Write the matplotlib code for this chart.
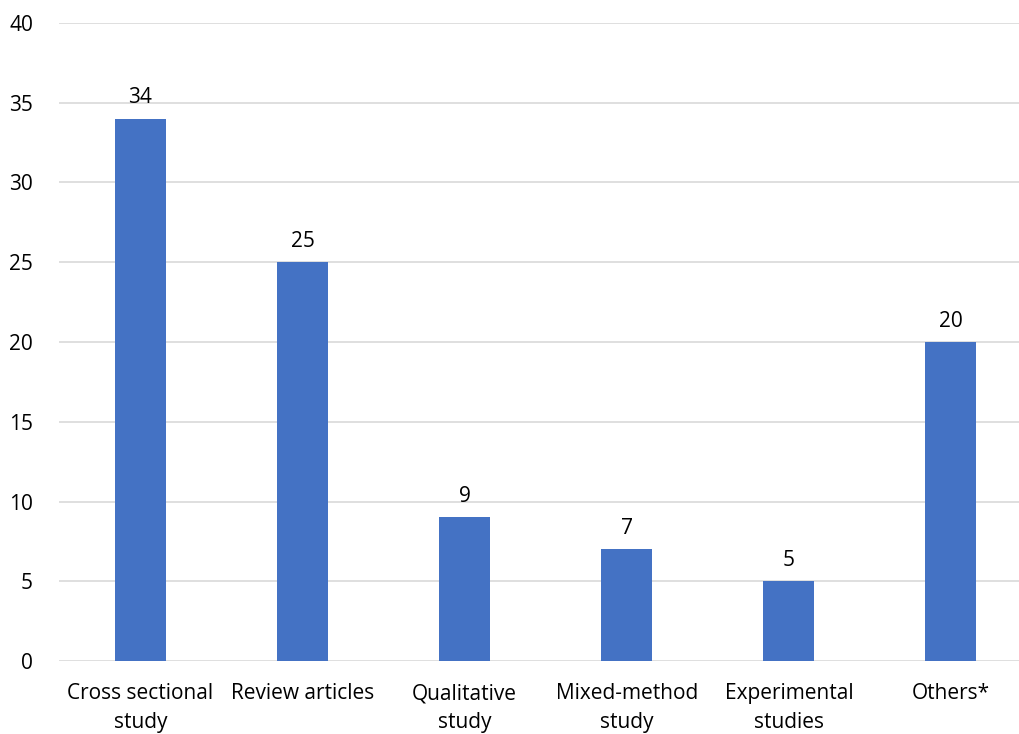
import numpy as np
import matplotlib.pyplot as plt

plt.rcParams["font.family"] = ["Open Sans", "DejaVu Sans"]

categories = ["Cross sectional\nstudy", "Review articles", "Qualitative\nstudy",
              "Mixed-method\nstudy", "Experimental\nstudies", "Others*"]
counts = [34, 25, 9, 7, 5, 20]
yticks = [0, 5, 10, 15, 20, 25, 30, 35, 40]

W, H = 1019, 734
fig = plt.figure(figsize=(W / 100, H / 100), dpi=100)
ax = fig.add_axes([59.4 / W, 73 / H, (W - 59.4) / W, (661 - 23) / H])

x = np.arange(len(categories))
bars = ax.bar(x, counts, width=0.315, color="#4472C4", zorder=3)

for b, v in zip(bars, counts):
    ax.text(b.get_x() + b.get_width() / 2, v + 0.65, str(v),
            ha="center", va="bottom", fontsize=15, color="#000000")

ax.set_ylim(0, 40)
ax.set_xlim(-0.5, 5.42)
ax.set_yticks(yticks)
ax.set_xticks(x)
ax.set_xticklabels(categories, fontsize=15, linespacing=1.5)
ax.tick_params(axis="y", labelsize=15, length=0, pad=19)
ax.tick_params(axis="x", length=0, pad=16)
ax.grid(axis="y", color="#d9d9d9", linewidth=1.2, zorder=0)
for s in ["top", "right", "left", "bottom"]:
    ax.spines[s].set_visible(False)

fig.savefig("out.png", dpi=100)
